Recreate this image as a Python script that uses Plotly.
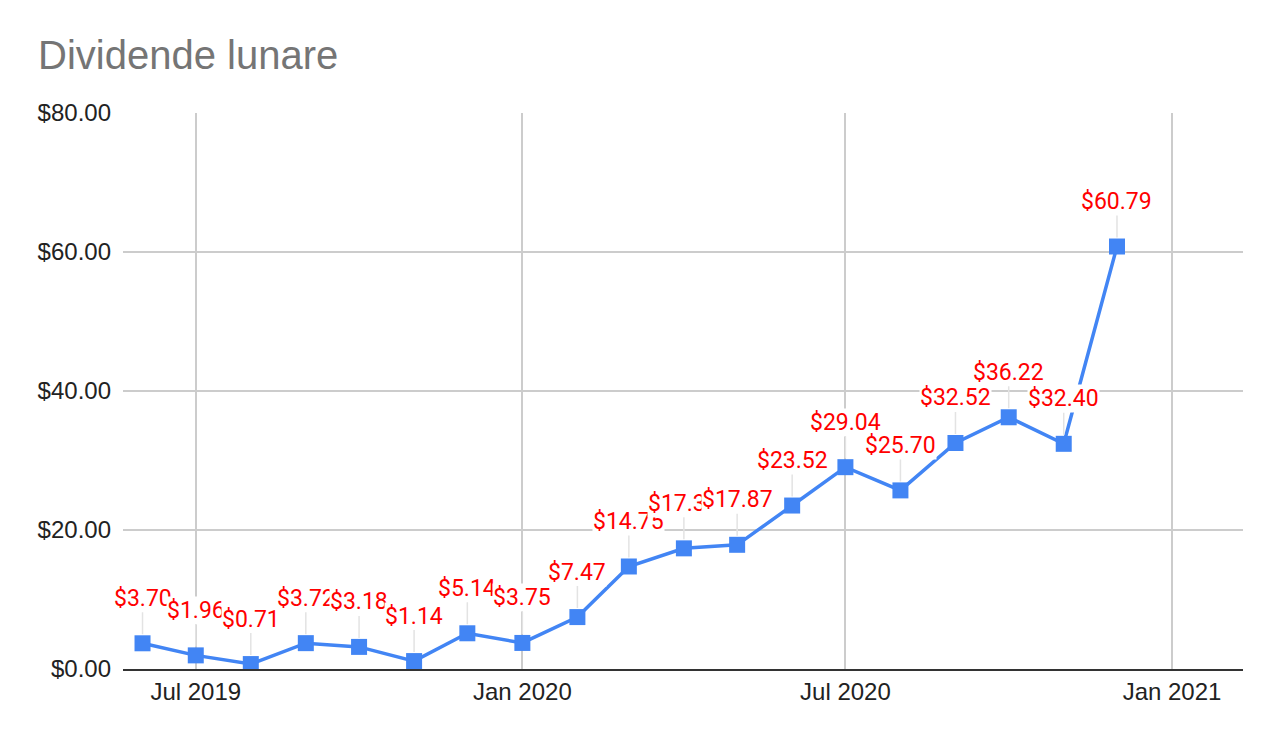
import plotly.graph_objects as go

# monthly dividends (RON? shown as $ in the sheet)
months = ["2019-06-01", "2019-07-01", "2019-08-01", "2019-09-01", "2019-10-01",
          "2019-11-01", "2019-12-01", "2020-01-01", "2020-02-01", "2020-03-01",
          "2020-04-01", "2020-05-01", "2020-06-01", "2020-07-01", "2020-08-01",
          "2020-09-01", "2020-10-01", "2020-11-01", "2020-12-01"]
dividends = [3.70, 1.96, 0.71, 3.72, 3.18, 1.14, 5.14, 3.75, 7.47, 14.75,
             17.36, 17.87, 23.52, 29.04, 25.70, 32.52, 36.22, 32.40, 60.79]

blue = "#4285F4"

fig = go.Figure()
fig.add_trace(go.Scatter(
    x=months, y=dividends, mode="lines+markers",
    line=dict(color=blue, width=3.5),
    marker=dict(symbol="square", size=16, color=blue),
    hoverinfo="x+y", showlegend=False,
))

# red data labels with thin leader lines, like the Sheets chart
for m, v in zip(months, dividends):
    fig.add_annotation(
        x=m, y=v, text="$%.2f" % v,
        showarrow=True, arrowhead=0, arrowwidth=1.5, arrowcolor="#e3e3e3",
        ax=0, ay=-45, standoff=9,
        font=dict(family="Roboto", size=23, color="#ff0000"),
        bgcolor="white", borderpad=0,
    )

# page has an 8px body margin, so margins are shifted by that
fig.update_layout(
    width=1282, height=742,
    margin=dict(l=115, r=47, t=105, b=81),
    paper_bgcolor="white", plot_bgcolor="white",
    title=dict(text="Dividende lunare", x=30 / 1282, xanchor="left",
               y=1 - 47 / 742, yanchor="middle",
               font=dict(family="Liberation Sans, Arial", size=40, color="#757575")),
    font=dict(family="Liberation Sans, Arial", size=24, color="#222222"),
)
fig.update_xaxes(
    type="date", range=["2019-05-21", "2021-02-10"],
    tick0="2019-07-01", dtick="M6", tickformat="%b %Y",
    showgrid=True, gridcolor="#cccccc", gridwidth=1.5,
    showline=True, linecolor="#333333", linewidth=2,
    ticks="", zeroline=False,
)
fig.update_yaxes(
    range=[0, 80], dtick=20, tickprefix="$", tickformat=".2f",
    showgrid=True, gridcolor="#cccccc", gridwidth=1.5,
    zeroline=False, showline=False, ticks="", ticklabelstandoff=11,
)

fig.write_html("out.html")
